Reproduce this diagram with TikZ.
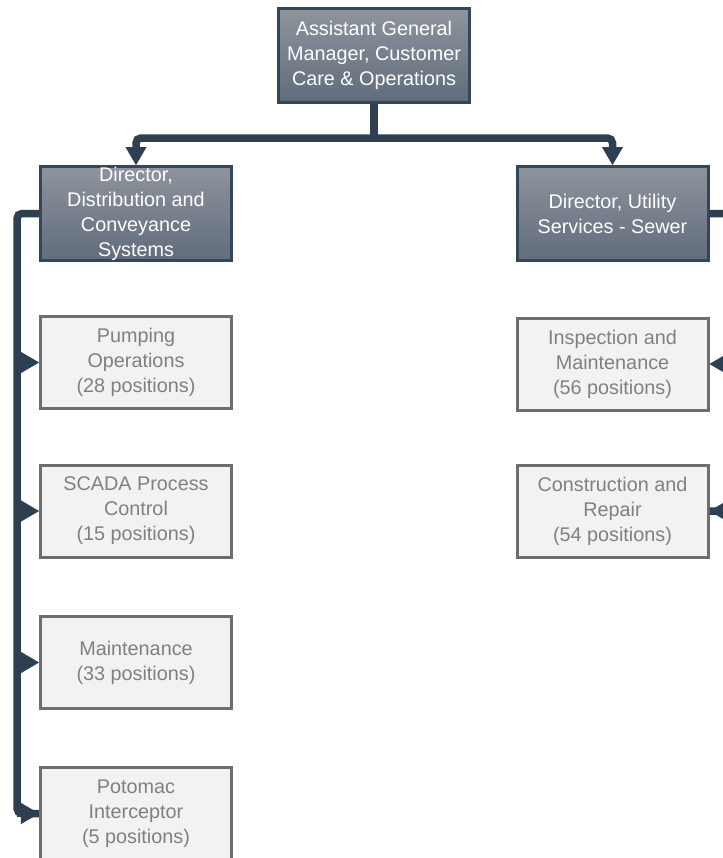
\documentclass[tikz,border=0pt]{standalone}
\usepackage{fontspec}
\setmainfont{Liberation Sans}
\usetikzlibrary{arrows.meta}
\definecolor{conncol}{RGB}{47,63,82}
\definecolor{darkborder}{RGB}{52,70,90}
\definecolor{darktop}{RGB}{143,148,156}
\definecolor{darkbot}{RGB}{96,108,124}
\definecolor{lightfill}{RGB}{242,242,242}
\definecolor{lightborder}{RGB}{110,110,110}
\definecolor{lighttext}{RGB}{128,128,128}
\tikzset{
  x=1bp, y=-1bp,
  basebox/.style={rectangle, inner sep=0pt, minimum width=191bp, line width=3bp,
    align=center, font=\fontsize{19.8bp}{25bp}\selectfont},
  darkbox/.style={basebox, minimum height=94bp, draw=darkborder,
    top color=darktop, bottom color=darkbot, text=white},
  lightbox/.style={basebox, minimum height=92bp, draw=lightborder,
    fill=lightfill, text=lighttext},
  conn/.style={draw=conncol, line width=7.5bp, rounded corners=5bp},
  tip/.style={-{Triangle[length=18bp,width=21bp,line width=0.1bp,sharp]}},
}
\begin{document}
\begin{tikzpicture}
\useasboundingbox (0,0) rectangle (723,858);
\clip (0,0) rectangle (723,858);

% nodes
\node[darkbox] (top) at (374,55.5) {Assistant General\\Manager, Customer\\Care \& Operations};
\node[darkbox] (dl) at (136,213.5) {Director,\\Distribution and\\Conveyance\\Systems};
\node[darkbox] (dr) at (612.5,213.5) {Director, Utility\\Services - Sewer};

\node[lightbox] (pump) at (136,362.5) {Pumping\\Operations\\(28 positions)};
\node[lightbox] (scada) at (136,511) {SCADA Process\\Control\\(15 positions)};
\node[lightbox] (maint) at (136,662.5) {Maintenance\\(33 positions)};
\node[lightbox] (poto) at (136,813.5) {Potomac\\Interceptor\\(5 positions)};

\node[lightbox] (insp) at (612.5,364) {Inspection and\\Maintenance\\(56 positions)};
\node[lightbox] (cons) at (612.5,511) {Construction and\\Repair\\(54 positions)};

% top connectors
\coordinate (j) at (374,138);
\draw[conn] (top.south) -- (j);
\draw[conn,tip] (j) -| (dl.north);
\draw[conn,tip] (j) -| (dr.north);

% left bus
\coordinate (bl) at (17,0);
\draw[conn] (dl.west) -| (bl |- poto.west) -- (poto.west);
\draw[conn,tip] (pump.west -| bl) -- (pump.west);
\draw[conn,tip] (scada.west -| bl) -- (scada.west);
\draw[conn,tip] (maint.west -| bl) -- (maint.west);
\draw[conn,tip] (poto.west -| bl) -- (poto.west);

% right bus
\coordinate (br) at (731,0);
\draw[conn] (dr.east) -| (br |- cons.east) -- (cons.east);
\draw[conn,tip] (insp.east -| br) -- (insp.east);
\draw[conn,tip] (cons.east -| br) -- (cons.east);
\end{tikzpicture}
\end{document}
